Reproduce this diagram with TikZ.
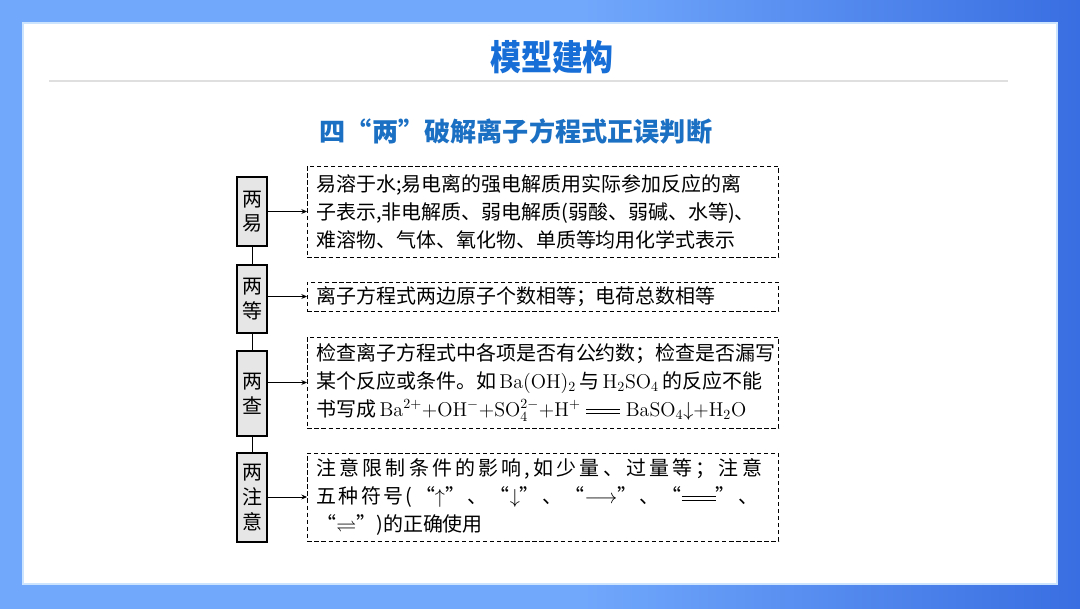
\documentclass[tikz,border=0pt]{standalone}
\usepackage{amsmath,amssymb}
\usepackage{graphicx}
\usepackage{fontspec}
\usepackage{tikz}
\usetikzlibrary{arrows.meta,positioning}
\newfontfamily\cjk{Noto Sans CJK SC}
\definecolor{bgLight}{RGB}{113,168,252}
\definecolor{bgDark}{RGB}{56,110,225}
\definecolor{titleBlue}{RGB}{22,110,214}
\definecolor{subBlue}{RGB}{28,112,196}
\definecolor{panelEdge}{RGB}{205,228,255}
\definecolor{boxGray}{RGB}{230,230,230}
\pgfdeclarehorizontalshading{bgshade}{100bp}{color(0bp)=(bgLight); color(52bp)=(bgLight); color(75bp)=(bgDark); color(100bp)=(bgDark)}
\newcommand{\longeq}{\mathrel{\vcenter{\hrule width 1.7em \vskip 2.2pt \hrule width 1.7em}}}

\begin{document}
\begin{tikzpicture}[x=0.025cm, y=-0.025cm,
  tagbox/.style={draw, fill=boxGray, line width=0.8pt, minimum width=0.75cm, inner sep=0pt,
    align=center, font=\cjk\fontsize{14.2}{17.5}\selectfont},
  notebox/.style={draw, dash pattern=on 3pt off 2pt, line width=0.6pt, minimum width=11.775cm,
    text width=11.325cm, inner xsep=0.225cm, inner ysep=2pt, align=left, anchor=west,
    font=\cjk\fontsize{14.2}{20}\selectfont},
  link/.style={line width=0.6pt, -{Stealth[length=4pt, width=3.5pt]}}]
\useasboundingbox (0,0) rectangle (1080,608);
\shade[shading=bgshade] (0,0) rectangle (1080,608);
\draw[panelEdge, fill=white, line width=1pt] (23,23) rectangle (1057,584);
\draw[gray!25, line width=0.8pt] (49,81) -- (1008,81);

\node[text=titleBlue, font=\cjk\bfseries\fontsize{25}{28}\selectfont] (title) at (552,57) {\scalebox{0.88}[1]{模型建构}};
\node[text=subBlue, font=\cjk\bfseries\fontsize{18.6}{22}\selectfont] (subtitle) at (516,131) {四“两”破解离子方程式正误判断};

% left column
\node[tagbox, minimum height=1.725cm] (yi) at (252,211.5) {两\\易};
\node[tagbox, minimum height=1.7cm] (deng) at (252,299) {两\\等};
\node[tagbox, minimum height=2.125cm] (cha) at (252,393.5) {两\\查};
\node[tagbox, minimum height=2.225cm] (zhuyi) at (252,497.5) {两\\注\\意};

% notes
\node[notebox, minimum height=2.275cm] (noteYi) at (307,211.5) {易溶于水;易电离的强电解质用实际参加反应的离\\子表示,非电解质、弱电解质(弱酸、弱碱、水等)、\\难溶物、气体、氧化物、单质等均用化学式表示};
\node[notebox, minimum height=0.725cm] (noteDeng) at (307,296.5) {离子方程式两边原子个数相等；电荷总数相等};
\node[notebox, minimum height=2.275cm] (noteCha) at (307,382.5) {检查离子方程式中各项是否有公约数；检查是否漏写\\某个反应或条件。如\,$\mathrm{Ba(OH)_2}$\,与\,$\mathrm{H_2SO_4}$\,的反应不能\\书写成\,$\mathrm{Ba^{2+}{+}OH^{-}{+}SO_4^{2-}{+}H^{+}}\longeq\mathrm{BaSO_4}{\downarrow}{+}\mathrm{H_2O}$};
\node[notebox, minimum height=2.2cm] (noteZhuyi) at (307,497) {{\addfontfeature{LetterSpace=16}注意限制条件的影响,如少量、过量等；注意}\\{\addfontfeature{LetterSpace=12}五种符号(“$\uparrow$”、“$\downarrow$”、“$\longrightarrow$”、“$\longeq$”、}\\“$\rightleftharpoons$”)的正确使用};

\draw[line width=0.6pt] (yi.south) -- (deng.north);
\draw[line width=0.6pt] (deng.south) -- (cha.north);
\draw[line width=0.6pt] (cha.south) -- (zhuyi.north);

\draw[link] (yi.east |- noteYi.west) -- (noteYi.west);
\draw[link] (deng.east |- noteDeng.west) -- (noteDeng.west);
\draw[link] (cha.east |- noteCha.west) -- (noteCha.west);
\draw[link] (zhuyi.east |- noteZhuyi.west) -- (noteZhuyi.west);
\end{tikzpicture}
\end{document}
